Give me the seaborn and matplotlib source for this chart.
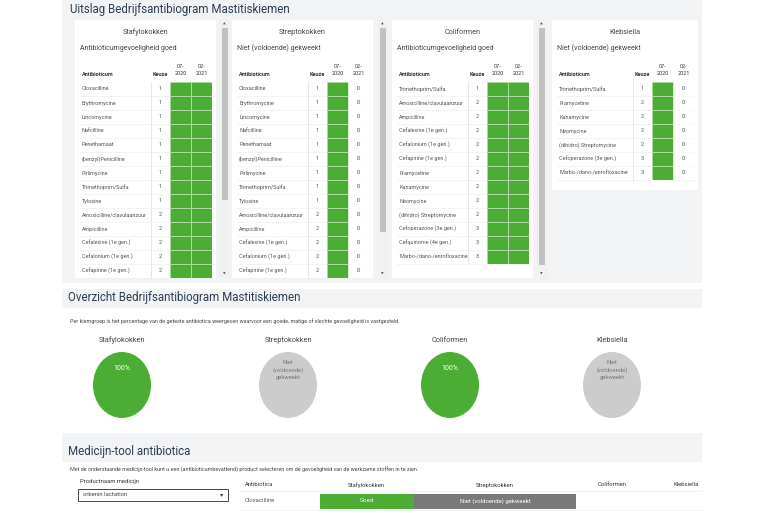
import numpy as np
import pandas as pd
import matplotlib
matplotlib.use("Agg")
import matplotlib.pyplot as plt
from matplotlib.patches import Rectangle, Ellipse
from matplotlib.colors import ListedColormap
import seaborn as sns

sns.set_theme(style="white")
plt.rcParams['font.family'] = ['Roboto', 'DejaVu Sans']

W, H = 770, 513
GREEN = "#4cad35"
GRAYBG = "#f2f3f5"
TITLE_C = "#2d3e50"
TXT = "#555555"

# ---------------- data ----------------
groups = ["Stafylokokken", "Streptokokken", "Coliformen", "Klebsiella"]
group_status = ["Antibioticumgevoeligheid goed", "Niet (voldoende) gekweekt",
                "Antibioticumgevoeligheid goed", "Niet (voldoende) gekweekt"]
periods = ["07-\n2020", "02-\n2021"]

staf_antibiotics = ["Cloxacilline", "Erythromycine", "Lincomycine", "Nafcilline", "Penethamaat",
                    "(benzyl)Penicilline", "Pirlimycine", "Trimethoprim/Sulfa", "Tylosine",
                    "Amoxicilline/clavulaanzuur", "Ampicilline", "Cefalexine (1e gen.)",
                    "Cefalonium (1e gen.)", "Cefapirine (1e gen.)"]
staf_keuze = [1, 1, 1, 1, 1, 1, 1, 1, 1, 2, 2, 2, 2, 2]
staf_0720 = [1, 1, 1, 1, 1, 1, 1, 1, 1, 1, 1, 1, 1, 1]
staf_0221 = [1, 1, 1, 1, 1, 1, 1, 1, 1, 1, 1, 1, 1, 1]

strep_antibiotics = ["Cloxacilline", "Erythromycine", "Lincomycine", "Nafcilline", "Penethamaat",
                     "(benzyl)Penicilline", "Pirlimycine", "Trimethoprim/Sulfa", "Tylosine",
                     "Amoxicilline/clavulaanzuur", "Ampicilline", "Cefalexine (1e gen.)",
                     "Cefalonium (1e gen.)", "Cefapirine (1e gen.)"]
strep_keuze = [1, 1, 1, 1, 1, 1, 1, 1, 1, 2, 2, 2, 2, 2]
strep_0720 = [1, 1, 1, 1, 1, 1, 1, 1, 1, 1, 1, 1, 1, 1]
strep_0221 = [0, 0, 0, 0, 0, 0, 0, 0, 0, 0, 0, 0, 0, 0]

coli_antibiotics = ["Trimethoprim/Sulfa", "Amoxicilline/clavulaanzuur", "Ampicilline",
                    "Cefalexine (1e gen.)", "Cefalonium (1e gen.)", "Cefapirine (1e gen.)",
                    "Framycetine", "Kanamycine", "Neomycine", "(dihidro) Streptomycine",
                    "Cefoperazone (3e gen.)", "Cefquinome (4e gen.)", "Marbo-/dano-/enrofloxacine"]
coli_keuze = [1, 2, 2, 2, 2, 2, 2, 2, 2, 2, 3, 3, 3]
coli_0720 = [1, 1, 1, 1, 1, 1, 1, 1, 1, 1, 1, 1, 1]
coli_0221 = [1, 1, 1, 1, 1, 1, 1, 1, 1, 1, 1, 1, 1]

kleb_antibiotics = ["Trimethoprim/Sulfa", "Framycetine", "Kanamycine", "Neomycine",
                    "(dihidro) Streptomycine", "Cefoperazone (3e gen.)", "Marbo-/dano-/enrofloxacine"]
kleb_keuze = [1, 2, 2, 2, 2, 3, 3]
kleb_0720 = [1, 1, 1, 1, 1, 1, 1]
kleb_0221 = [0, 0, 0, 0, 0, 0, 0]

overview_labels = ["100%", "Niet\n(voldoende)\ngekweekt", "100%", "Niet\n(voldoende)\ngekweekt"]
overview_good = [1, 0, 1, 0]

med_product = "orbenin lactation"
med_columns = ["Antibiotica", "Stafylokokken", "Streptokokken", "Coliformen", "Klebsiella"]
med_antibiotic = "Cloxacilline"
med_results = ["Goed", "Niet (voldoende) gekweekt"]

# ---------------- layout ----------------
fig = plt.figure(figsize=(W / 100, H / 100), dpi=100)
ax = fig.add_axes([0, 0, 1, 1])
ax.set_xlim(0, W)
ax.set_ylim(H, 0)
ax.axis("off")


def rect(x0, y0, x1, y1, **kw):
    ax.add_patch(Rectangle((x0, y0), x1 - x0, y1 - y0, **kw))


# section backgrounds
rect(62, 0, 702, 283, facecolor=GRAYBG, edgecolor="none", zorder=0)
rect(62, 289, 702, 308, facecolor=GRAYBG, edgecolor="none", zorder=0)
rect(62, 433, 702, 462, facecolor=GRAYBG, edgecolor="none", zorder=0)

ax.text(70, 10, "Uitslag Bedrijfsantibiogram Mastitiskiemen", fontsize=8.3, color=TITLE_C,
        va="center", ha="left")
ax.text(68, 298, "Overzicht Bedrijfsantibiogram Mastitiskiemen", fontsize=8.3, color=TITLE_C,
        va="center", ha="left")
ax.text(68, 452, "Medicijn-tool antibiotica", fontsize=8.3, color=TITLE_C,
        va="center", ha="left")

cards = [
    (staf_antibiotics, staf_keuze, staf_0720, staf_0221),
    (strep_antibiotics, strep_keuze, strep_0720, strep_0221),
    (coli_antibiotics, coli_keuze, coli_0720, coli_0221),
    (kleb_antibiotics, kleb_keuze, kleb_0720, kleb_0221),
]
card_x = [75, 232, 392, 552]
card_w = [141, 141, 141, 146]
card_bottom = [278, 278, 278, 190]
scroll_x = [219, 377, 536]
thumb_end = [200, 232, 265]
ROW0, RH = 82, 14

for i, (names, keuze, p1, p2) in enumerate(cards):
    x0, w = card_x[i], card_w[i]
    rect(x0, 20, x0 + w, card_bottom[i], facecolor="white", edgecolor="none", zorder=1)
    ax.text(x0 + w / 2, 32, groups[i], fontsize=5.2, color="#444", ha="center", va="center", zorder=3)
    ax.text(x0 + 5, 48, group_status[i], fontsize=5.0, color="#444", ha="left", va="center", zorder=3)
    c1 = x0 + w - 46
    kx = x0 + w - 56
    ax.text(x0 + 7, 74, "Antibioticum", fontsize=4.0, fontweight="bold", color="#333",
            ha="left", va="center", zorder=3)
    ax.text(kx, 74, "Keuze", fontsize=4.0, fontweight="bold", color="#333",
            ha="center", va="center", zorder=3)
    for j, p in enumerate(periods):
        ax.text(c1 + 10.5 + 21 * j, 70, p, fontsize=4.0, color="#333", ha="center", va="center",
                linespacing=1.5, zorder=3)
    n = len(names)
    ybot = ROW0 + n * RH
    ax.plot([kx - 9, kx - 9], [ROW0, ybot], color="#dddddd", lw=0.5, zorder=2)
    for r in range(n):
        yc = ROW0 + RH * r + RH / 2
        ax.plot([x0 + 5, c1], [ROW0 + RH * (r + 1)] * 2, color="#eeeeee", lw=0.5, zorder=2)
        ax.plot([c1 + 21, x0 + w - 3], [ROW0 + RH * (r + 1)] * 2, color="#eeeeee", lw=0.5, zorder=2)
        ax.text(x0 + 7, yc, names[r], fontsize=4.0, color=TXT, ha="left", va="center", zorder=3)
        ax.text(kx, yc, str(keuze[r]), fontsize=4.0, color=TXT, ha="center", va="center", zorder=3)
        if p2[r] == 0:
            ax.text(c1 + 31.5, yc, "0", fontsize=4.0, color="#444", ha="center", va="center", zorder=3)
        if p1[r] == 0:
            ax.text(c1 + 10.5, yc, "0", fontsize=4.0, color="#444", ha="center", va="center", zorder=3)

    df = pd.DataFrame({"07-2020": p1, "02-2021": p2}, index=names)
    hax = fig.add_axes([c1 / W, 1 - ybot / H, 42 / W, n * RH / H])
    sns.heatmap(df, ax=hax, cmap=ListedColormap([GREEN]), mask=(df == 0), cbar=False,
                linewidths=0.7, linecolor=(1, 1, 1, 0.55), xticklabels=False, yticklabels=False)
    hax.patch.set_alpha(0)
    hax.set_xlabel("")
    hax.set_ylabel("")

    if i < 3:
        sx = scroll_x[i]
        rect(sx, 20, sx + 11, 278, facecolor="#f1f1f1", edgecolor="none", zorder=1)
        rect(sx + 2.5, 28, sx + 8.5, thumb_end[i], facecolor="#c1c1c1", edgecolor="none", zorder=2)
        ax.text(sx + 5.5, 24, "▲", fontsize=2.5, color="#555", ha="center", va="center", zorder=3)
        ax.text(sx + 5.5, 274, "▼", fontsize=2.5, color="#555", ha="center", va="center", zorder=3)

# ---------------- overview ----------------
ax.text(70, 321, "Per kiemgroep is het percentage van de geteste antibiotica weergeven waarvoor een goede, "
        "matige of slechte gevoeligheid is vastgesteld.", fontsize=3.9, color="#444",
        ha="left", va="center")
circle_x = [122, 288, 450, 612]
for i, g in enumerate(groups):
    cx = circle_x[i]
    ax.text(cx, 340, g, fontsize=5.3, color="#444", ha="center", va="center")
    good = overview_good[i] == 1
    ax.add_patch(Ellipse((cx, 385), 58, 66, facecolor=GREEN if good else "#cccccc",
                         edgecolor="none", zorder=2))
    if good:
        ax.text(cx, 369, overview_labels[i], fontsize=5.0, color="white", ha="center", va="center", zorder=3)
    else:
        ax.text(cx, 370, overview_labels[i], fontsize=4.2, color="#777", ha="center", va="center",
                linespacing=1.5, zorder=3)

# ---------------- medicijn tool ----------------
ax.text(70, 470, "Met de onderstaande medicijn-tool kunt u een (antibioticumbevattend) product selecteren "
        "om de gevoeligheid van de werkzame stoffen in te zien.", fontsize=3.9, color="#444",
        ha="left", va="center")
ax.text(80, 482, "Productnaam medicijn", fontsize=4.2, color="#333", ha="left", va="center")
rect(78, 489, 228, 501, facecolor="white", edgecolor="#444444", lw=0.7, zorder=2)
ax.text(83, 495, med_product, fontsize=4.2, color="#444", ha="left", va="center", zorder=3)
ax.text(222, 495, "▾", fontsize=4.5, color="#333", ha="center", va="center", zorder=3)

col_x = [245, 366, 495, 612, 686]
for j, c in enumerate(med_columns):
    ax.text(col_x[j], 485, c, fontsize=4.2, color="#333", ha="left" if j == 0 else "center", va="center")
ax.plot([240, 702], [491, 491], color="#eeeeee", lw=0.6)
ax.plot([240, 702], [510, 510], color="#eeeeee", lw=0.6)
ax.text(245, 500, med_antibiotic, fontsize=4.2, color=TXT, ha="left", va="center")
bar_edges = [320, 414, 576]
bar_colors = [GREEN, "#797979"]
for j, res in enumerate(med_results):
    ax.barh([501], [bar_edges[j + 1] - bar_edges[j]], left=bar_edges[j], height=15,
            color=bar_colors[j], edgecolor="none", zorder=2)
    ax.text((bar_edges[j] + bar_edges[j + 1]) / 2, 501, res, fontsize=4.3, color="white",
            ha="center", va="center", zorder=3)

fig.savefig("out.png", dpi=100)
